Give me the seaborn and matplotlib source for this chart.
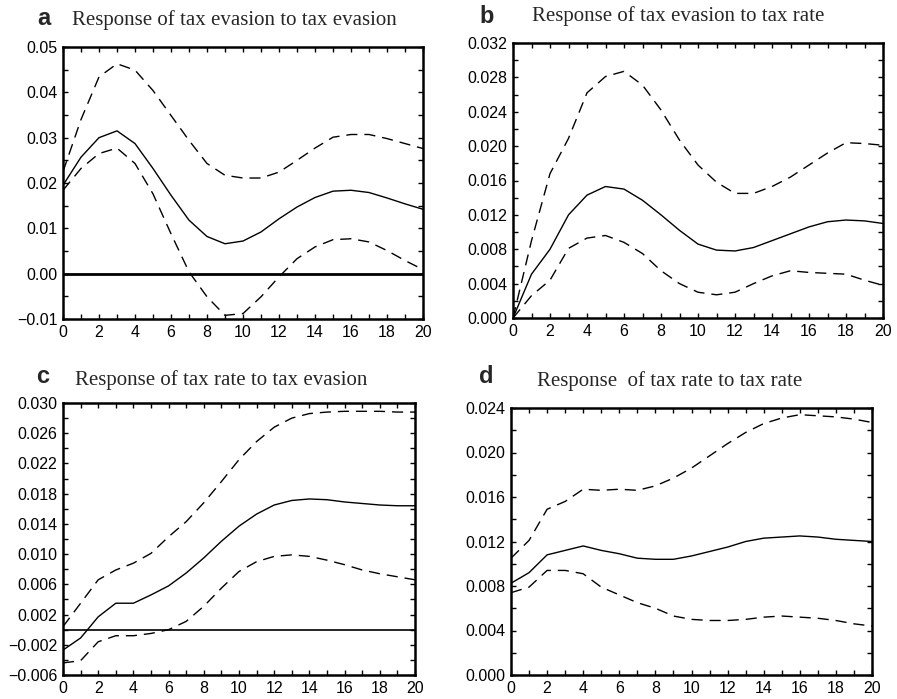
import numpy as np
import pandas as pd
import matplotlib
matplotlib.use("Agg")
import matplotlib.pyplot as plt
from matplotlib.ticker import MultipleLocator, FuncFormatter
import seaborn as sns

# ---------------------------------------------
# Impulse responses
# ---------------------------------------------
horizon = list(range(21))

# a: response of tax evasion to tax evasion
a_mid = [0.0195, 0.0257, 0.0300, 0.0315, 0.0287, 0.0232, 0.0173, 0.0118, 0.0082, 0.0066, 0.0072,
         0.0092, 0.0121, 0.0147, 0.0168, 0.0182, 0.0184, 0.0179, 0.0167, 0.0154, 0.0142]
a_up = [0.0225, 0.0340, 0.0434, 0.0463, 0.0449, 0.0404, 0.0349, 0.0294, 0.0243, 0.0217, 0.0211,
        0.0211, 0.0224, 0.0250, 0.0277, 0.0301, 0.0307, 0.0307, 0.0298, 0.0287, 0.0276]
a_lo = [0.0184, 0.0232, 0.0265, 0.0277, 0.0243, 0.0176, 0.0088, 0.0004, -0.0051, -0.0092, -0.0088,
        -0.0051, -0.0007, 0.0033, 0.0059, 0.0075, 0.0077, 0.0070, 0.0051, 0.0029, 0.0009]

# b: response of tax evasion to tax rate
b_mid = [0.0, 0.0051, 0.0080, 0.0120, 0.0143, 0.0153, 0.0150, 0.0137, 0.0120, 0.0102, 0.0086,
         0.0079, 0.0078, 0.0082, 0.0090, 0.0098, 0.0106, 0.0112, 0.0114, 0.0113, 0.0110]
b_up = [0.0, 0.0090, 0.0168, 0.0209, 0.0262, 0.0281, 0.0287, 0.0271, 0.0242, 0.0207, 0.0178,
        0.0158, 0.0145, 0.0145, 0.0153, 0.0164, 0.0178, 0.0192, 0.0204, 0.0203, 0.0201]
b_lo = [0.0, 0.0026, 0.0044, 0.0081, 0.0093, 0.0096, 0.0088, 0.0075, 0.0055, 0.0040, 0.0030,
        0.0027, 0.0030, 0.0040, 0.0049, 0.0055, 0.0053, 0.0052, 0.0051, 0.0044, 0.0038]

# c: response of tax rate to tax evasion
c_mid = [-0.0027, -0.0011, 0.0017, 0.0035, 0.0035, 0.0046, 0.0058, 0.0075, 0.0095, 0.0117, 0.0137,
         0.0153, 0.0165, 0.0171, 0.0173, 0.0172, 0.0169, 0.0167, 0.0165, 0.0164, 0.0164]
c_up = [0.0004, 0.0035, 0.0066, 0.0079, 0.0088, 0.0101, 0.0123, 0.0143, 0.0168, 0.0196, 0.0225,
        0.0249, 0.0268, 0.0280, 0.0286, 0.0288, 0.0289, 0.0289, 0.0289, 0.0288, 0.0288]
c_lo = [-0.0044, -0.0041, -0.0016, -0.0008, -0.0008, -0.0005, 0.0000, 0.0011, 0.0031, 0.0055, 0.0077,
        0.0090, 0.0097, 0.0099, 0.0097, 0.0092, 0.0086, 0.0079, 0.0074, 0.0070, 0.0066]

# d: response of tax rate to tax rate
d_mid = [0.00825, 0.0092, 0.0108, 0.0112, 0.0116, 0.0112, 0.0109, 0.0105, 0.0104, 0.0104, 0.0107,
         0.0111, 0.0115, 0.0120, 0.0123, 0.0124, 0.0125, 0.0124, 0.0122, 0.0121, 0.0120]
d_up = [0.0105, 0.0121, 0.0149, 0.0156, 0.0167, 0.0166, 0.0167, 0.0166, 0.0170, 0.0177, 0.0186,
        0.0197, 0.0208, 0.0218, 0.0226, 0.0231, 0.0234, 0.0233, 0.0232, 0.0230, 0.0227]
d_lo = [0.0074, 0.0079, 0.0094, 0.0094, 0.0091, 0.0079, 0.0072, 0.0065, 0.0060, 0.0053, 0.0050,
        0.0049, 0.0049, 0.0050, 0.0052, 0.0053, 0.0052, 0.0051, 0.0049, 0.0046, 0.0044]

letters = ["a", "b", "c", "d"]
titles = ["Response of tax evasion to tax evasion",
          "Response of tax evasion to tax rate",
          "Response of tax rate to tax evasion",
          "Response  of tax rate to tax rate"]

# ---------------------------------------------
# Figure setup
# ---------------------------------------------
sns.set_style("ticks")
plt.rcParams['font.family'] = ['Liberation Sans', 'DejaVu Sans']

W, H = 897, 699
fig = plt.figure(figsize=(W / 100, H / 100), dpi=100)

def box(l, t, r, b):
    # pixel box -> figure fraction rect
    return [l / W, 1 - b / H, (r - l) / W, (b - t) / H]

def make_fmt(nd):
    return FuncFormatter(lambda v, pos: f"{v:.{nd}f}".replace("-", "\u2212")
                         if abs(v) > 1e-12 else f"{0:.{nd}f}")

panels = [
    dict(mid=a_mid, up=a_up, lo=a_lo, rect=box(63, 47, 423, 319), ylim=(-0.01, 0.05), step=0.01, nd=2,
         zero=2.0, letter_xy=(37, 25), title_xy=(72, 25)),
    dict(mid=b_mid, up=b_up, lo=b_lo, rect=box(513, 43, 883, 318), ylim=(0, 0.032), step=0.004, nd=3,
         zero=None, letter_xy=(479, 23), title_xy=(532, 21)),
    dict(mid=c_mid, up=c_up, lo=c_lo, rect=box(63, 403, 415, 675), ylim=(-0.006, 0.030), step=0.004, nd=3,
         zero=1.2, letter_xy=(36, 383), title_xy=(75, 385)),
    dict(mid=d_mid, up=d_up, lo=d_lo, rect=box(511, 408, 872, 675), ylim=(0, 0.024), step=0.004, nd=3,
         zero=None, letter_xy=(479, 383), title_xy=(537, 386)),
]

dash = (0, (8, 5))

for i, p in enumerate(panels):
    ax = fig.add_axes(p["rect"])
    df = pd.DataFrame({"h": horizon, "mid": p["mid"], "up": p["up"], "lo": p["lo"]})

    if p["zero"]:
        ax.axhline(0, color="black", lw=p["zero"], zorder=1)

    sns.lineplot(data=df, x="h", y="mid", ax=ax, color="black", lw=1.0)
    sns.lineplot(data=df, x="h", y="up", ax=ax, color="black", lw=1.0, linestyle=dash)
    sns.lineplot(data=df, x="h", y="lo", ax=ax, color="black", lw=1.0, linestyle=dash)

    ax.set_xlim(0, 20)
    ax.set_ylim(*p["ylim"])
    ax.set_xlabel("")
    ax.set_ylabel("")

    ax.xaxis.set_major_locator(MultipleLocator(2))
    ax.xaxis.set_minor_locator(MultipleLocator(1))
    ax.yaxis.set_major_locator(MultipleLocator(p["step"], offset=p["ylim"][0] % p["step"]))
    ax.yaxis.set_minor_locator(MultipleLocator(p["step"] / 2))
    ax.yaxis.set_major_formatter(make_fmt(p["nd"]))

    ax.tick_params(which="both", direction="in", top=True, right=True, length=3.5, width=1.0,
                   labelsize=11.5, colors="black", pad=4)
    for s in ax.spines.values():
        s.set_linewidth(1.8)
        s.set_color("black")

    fig.text(p["letter_xy"][0] / W, 1 - p["letter_xy"][1] / H, letters[i], fontsize=17,
             fontweight="bold", va="baseline", ha="left")
    fig.text(p["title_xy"][0] / W, 1 - p["title_xy"][1] / H, titles[i], fontsize=15,
             family=["Liberation Serif", "DejaVu Serif"], va="baseline", ha="left")

plt.savefig("out.png", dpi=100)
